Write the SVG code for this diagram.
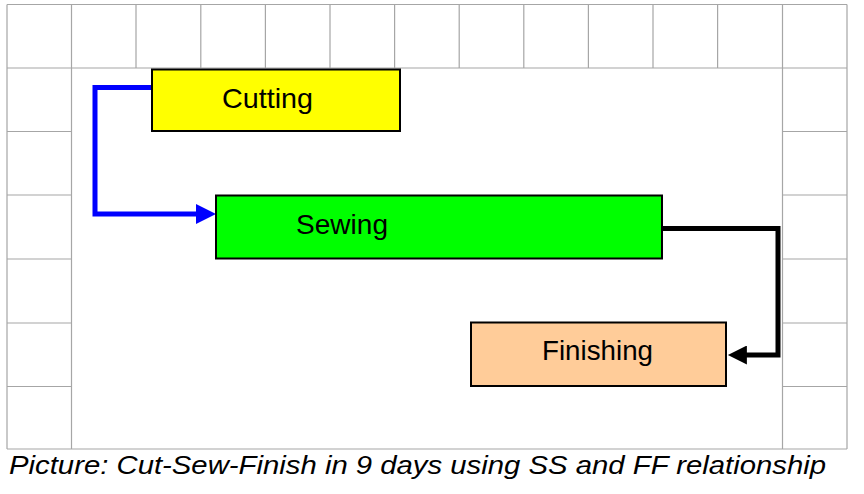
<svg xmlns="http://www.w3.org/2000/svg" width="864" height="494" viewBox="0 0 864 494">
<style>
.grid{fill:none;stroke:#a6a6a6;stroke-width:1.2}
.box{stroke:#000;stroke-width:2}
.lbl{font-family:"Liberation Sans",Arial,sans-serif;font-size:28px;fill:#000}
.cap{font-family:"Liberation Sans",Arial,sans-serif;font-size:26px;font-style:italic;fill:#000}
.conn{fill:none;stroke-width:5;stroke-linejoin:miter}
</style>
<defs>
<marker id="ab" markerUnits="userSpaceOnUse" viewBox="0 0 20 20" refX="2" refY="10" markerWidth="20" markerHeight="20" orient="auto">
<path d="M0,0 L20,10 L0,20 z" fill="#0000ff"/>
</marker>
<marker id="ak" markerUnits="userSpaceOnUse" viewBox="0 0 20 20" refX="2" refY="10" markerWidth="20" markerHeight="19" orient="auto">
<path d="M0,0 L20,10 L0,20 z" fill="#000"/>
</marker>
</defs>
<rect width="864" height="494" fill="#fff"/>
<g id="grid">
<path class="grid" d="M7,4.5 H847 M7,68 H847 M7,4.5 V449 M847,4.5 V449 M7,449 H847
M71.5,4.5 V449 M136,4.5 V68 M200.8,4.5 V68 M265.4,4.5 V68 M330,4.5 V68 M394.6,4.5 V68 M459.2,4.5 V68 M523.8,4.5 V68 M588.4,4.5 V68 M653,4.5 V68 M717.6,4.5 V68 M782.5,4.5 V449
M7,131.5 H71.5 M7,195 H71.5 M7,259 H71.5 M7,323 H71.5 M7,386.5 H71.5
M782.5,131.5 H847 M782.5,195 H847 M782.5,259 H847 M782.5,323 H847 M782.5,386.5 H847"/>
</g>
<g id="connectors">
<path class="conn" stroke="#0000ff" d="M152,87.5 H95 V214 H198" marker-end="url(#ab)"/>
<path class="conn" stroke="#000" d="M662,228.5 H778 V355 H745" marker-end="url(#ak)"/>
</g>
<g id="cutting">
<rect class="box" x="152" y="69.5" width="248" height="61.5" fill="#ffff00"/>
<text class="lbl" x="222" y="108" textLength="91" lengthAdjust="spacingAndGlyphs">Cutting</text>
</g>
<g id="sewing">
<rect class="box" x="216" y="195.5" width="446" height="63" fill="#00ff00"/>
<text class="lbl" x="296" y="234" textLength="92" lengthAdjust="spacingAndGlyphs">Sewing</text>
</g>
<g id="finishing">
<rect class="box" x="471" y="322.5" width="255" height="63.5" fill="#ffcc99"/>
<text class="lbl" x="542" y="360" textLength="111" lengthAdjust="spacingAndGlyphs">Finishing</text>
</g>
<text class="cap" x="9" y="474" textLength="817" lengthAdjust="spacingAndGlyphs">Picture: Cut-Sew-Finish in 9 days using SS and FF relationship</text>
</svg>
